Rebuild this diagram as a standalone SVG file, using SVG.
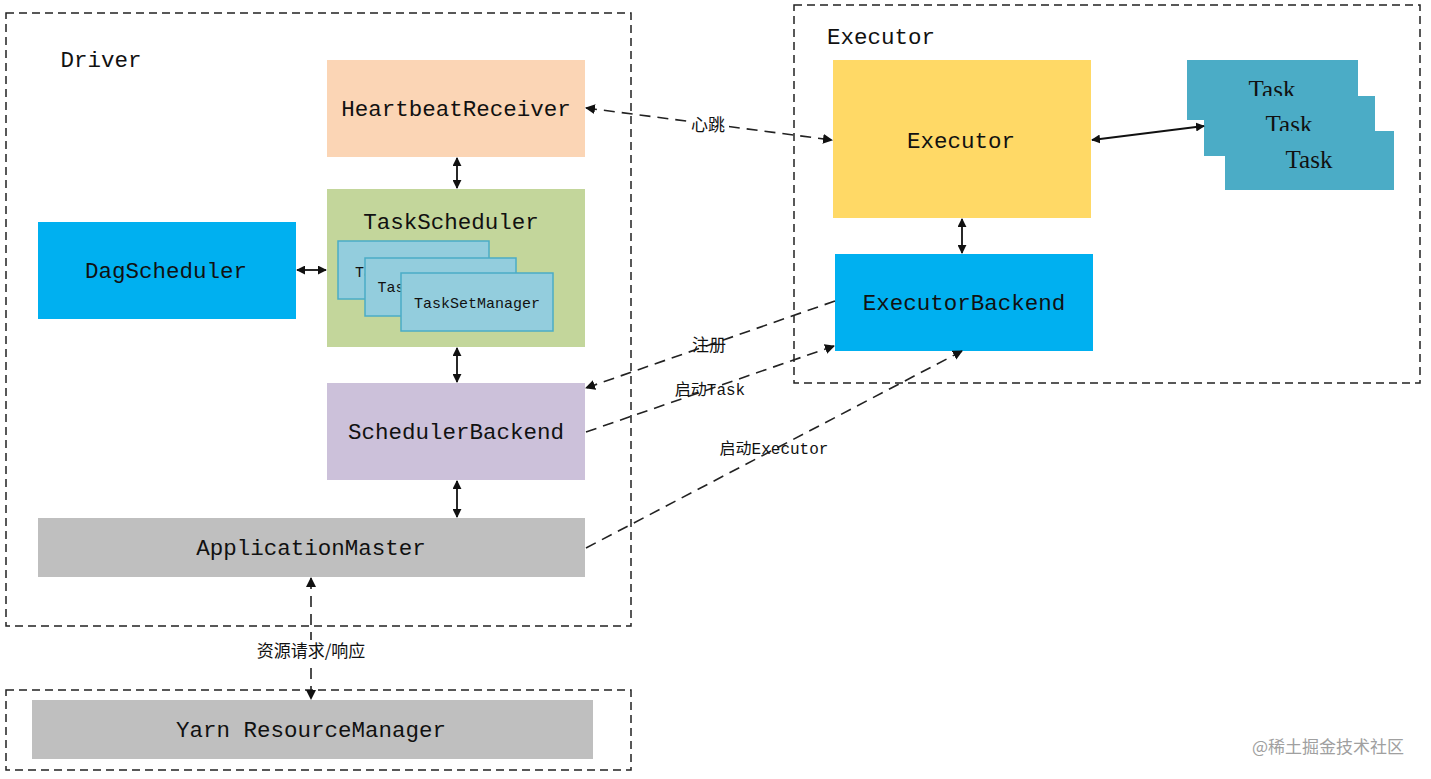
<svg xmlns="http://www.w3.org/2000/svg" width="1431" height="779" viewBox="0 0 1431 779">
<style>
.frame{fill:none;stroke:#222;stroke-width:1.5;stroke-dasharray:8 5}
.t{font-family:"Liberation Mono","DejaVu Sans Mono",monospace;font-size:22.5px;fill:#111;text-anchor:middle}
.lbl{font-family:"Liberation Mono","Noto Sans CJK SC",monospace;font-size:16px;fill:#111;text-anchor:middle}
.cjk{font-family:"Noto Sans CJK SC",sans-serif;font-size:17px;fill:#111;text-anchor:middle}
.solid{fill:none;stroke:#111;stroke-width:1.8;marker-start:url(#ah);marker-end:url(#ah)}
.dash{fill:none;stroke:#222;stroke-width:1.6;stroke-dasharray:11 7}
.tsm{fill:#93CDDD;stroke:#4BACC6;stroke-width:1.5}
.task{fill:#4BACC6}
.tk{font-family:"Liberation Serif",serif;font-size:25px;fill:#111;text-anchor:middle}
</style>
<defs>
<marker id="ah" viewBox="0 0 10 10" refX="9" refY="5" markerWidth="9" markerHeight="9" markerUnits="userSpaceOnUse" orient="auto-start-reverse">
<path d="M0,0 L10,5 L0,10 z" fill="#111"/>
</marker>
<marker id="ah2" viewBox="0 0 10 10" refX="9" refY="5" markerWidth="10" markerHeight="10" markerUnits="userSpaceOnUse" orient="auto-start-reverse">
<path d="M0,0 L10,5 L0,10 z" fill="#111"/>
</marker>
</defs>
<rect width="1431" height="779" fill="#fff"/>

<g id="driver-frame">
<rect class="frame" x="6" y="13" width="625" height="613"/>
<text class="t" x="101" y="67">Driver</text>
</g>
<g id="executor-frame">
<rect class="frame" x="794" y="5" width="626" height="378"/>
<text class="t" x="881" y="44">Executor</text>
</g>
<g id="yarn-frame">
<rect class="frame" x="6" y="690" width="625" height="80"/>
</g>

<g id="heartbeat-receiver">
<rect x="327" y="60" width="258" height="97" fill="#FBD5B5"/>
<text class="t" x="456" y="116">HeartbeatReceiver</text>
</g>
<g id="task-scheduler">
<rect x="327" y="189" width="258" height="158" fill="#C3D69B"/>
<text class="t" x="451" y="229">TaskScheduler</text>
<rect class="tsm" x="338" y="241" width="151" height="58"/>
<text class="t" x="364" y="277" style="font-size:15px">Ta</text>
<rect class="tsm" x="365" y="258" width="151" height="58"/>
<text class="t" x="391" y="292" style="font-size:15px">Tas</text>
<rect class="tsm" x="401" y="273" width="152" height="58"/>
<text class="t" x="477" y="308" style="font-size:15px">TaskSetManager</text>
</g>
<g id="dag-scheduler">
<rect x="38" y="222" width="258" height="97" fill="#00B0F0"/>
<text class="t" x="166" y="278">DagScheduler</text>
</g>
<g id="scheduler-backend">
<rect x="327" y="383" width="258" height="97" fill="#CCC1DA"/>
<text class="t" x="456" y="439">SchedulerBackend</text>
</g>
<g id="application-master">
<rect x="38" y="518" width="547" height="59" fill="#BFBFBF"/>
<text class="t" x="311" y="555">ApplicationMaster</text>
</g>
<g id="yarn-resource-manager">
<rect x="32" y="700" width="561" height="59" fill="#BFBFBF"/>
<text class="t" x="311" y="737">Yarn ResourceManager</text>
</g>
<g id="executor">
<rect x="833" y="60" width="258" height="158" fill="#FFD966"/>
<text class="t" x="961" y="148">Executor</text>
</g>
<g id="executor-backend">
<rect x="835" y="254" width="258" height="97" fill="#00B0F0"/>
<text class="t" x="964" y="310">ExecutorBackend</text>
</g>
<g id="tasks">
<rect class="task" x="1187" y="60" width="171" height="60"/>
<text class="tk" x="1272" y="97.5">Task</text>
<rect class="task" x="1204" y="96" width="171" height="60"/>
<text class="tk" x="1289" y="132.5">Task</text>
<rect class="task" x="1225" y="131" width="169" height="59"/>
<text class="tk" x="1309" y="168">Task</text>
</g>

<g id="connectors">
<line class="solid" x1="457" y1="158" x2="457" y2="188"/>
<line class="solid" x1="297" y1="270" x2="326" y2="270"/>
<line class="solid" x1="457" y1="348" x2="457" y2="382"/>
<line class="solid" x1="457" y1="481" x2="457" y2="517"/>
<line class="solid" x1="962" y1="219" x2="962" y2="253"/>
<line class="solid" x1="1092" y1="140" x2="1204" y2="126"/>

<line class="dash" x1="586" y1="108" x2="832" y2="140" style="marker-start:url(#ah2);marker-end:url(#ah2)"/>
<line class="dash" x1="835" y1="301" x2="586" y2="388" style="marker-end:url(#ah2)"/>
<line class="dash" x1="586" y1="432" x2="834" y2="346" style="marker-end:url(#ah2)"/>
<line class="dash" x1="586" y1="548" x2="962" y2="351" style="marker-end:url(#ah2)"/>
<line class="dash" x1="311" y1="578" x2="311" y2="699" style="marker-start:url(#ah2);marker-end:url(#ah2)"/>

<rect x="687" y="113" width="42" height="22" fill="#fff"/>
<text class="cjk" x="708" y="131">心跳</text>
<text class="cjk" x="709" y="351">注册</text>
<text class="lbl" x="710" y="395">启动Task</text>
<text class="lbl" x="774" y="454">启动Executor</text>
<rect x="250" y="640" width="121" height="22" fill="#fff"/>
<text class="cjk" x="311" y="657">资源请求/响应</text>
</g>

<text x="1328" y="753" style="font-family:'Noto Sans CJK SC',sans-serif;font-size:17px;fill:#a0a0a0;text-anchor:middle">@稀土掘金技术社区</text>
</svg>
